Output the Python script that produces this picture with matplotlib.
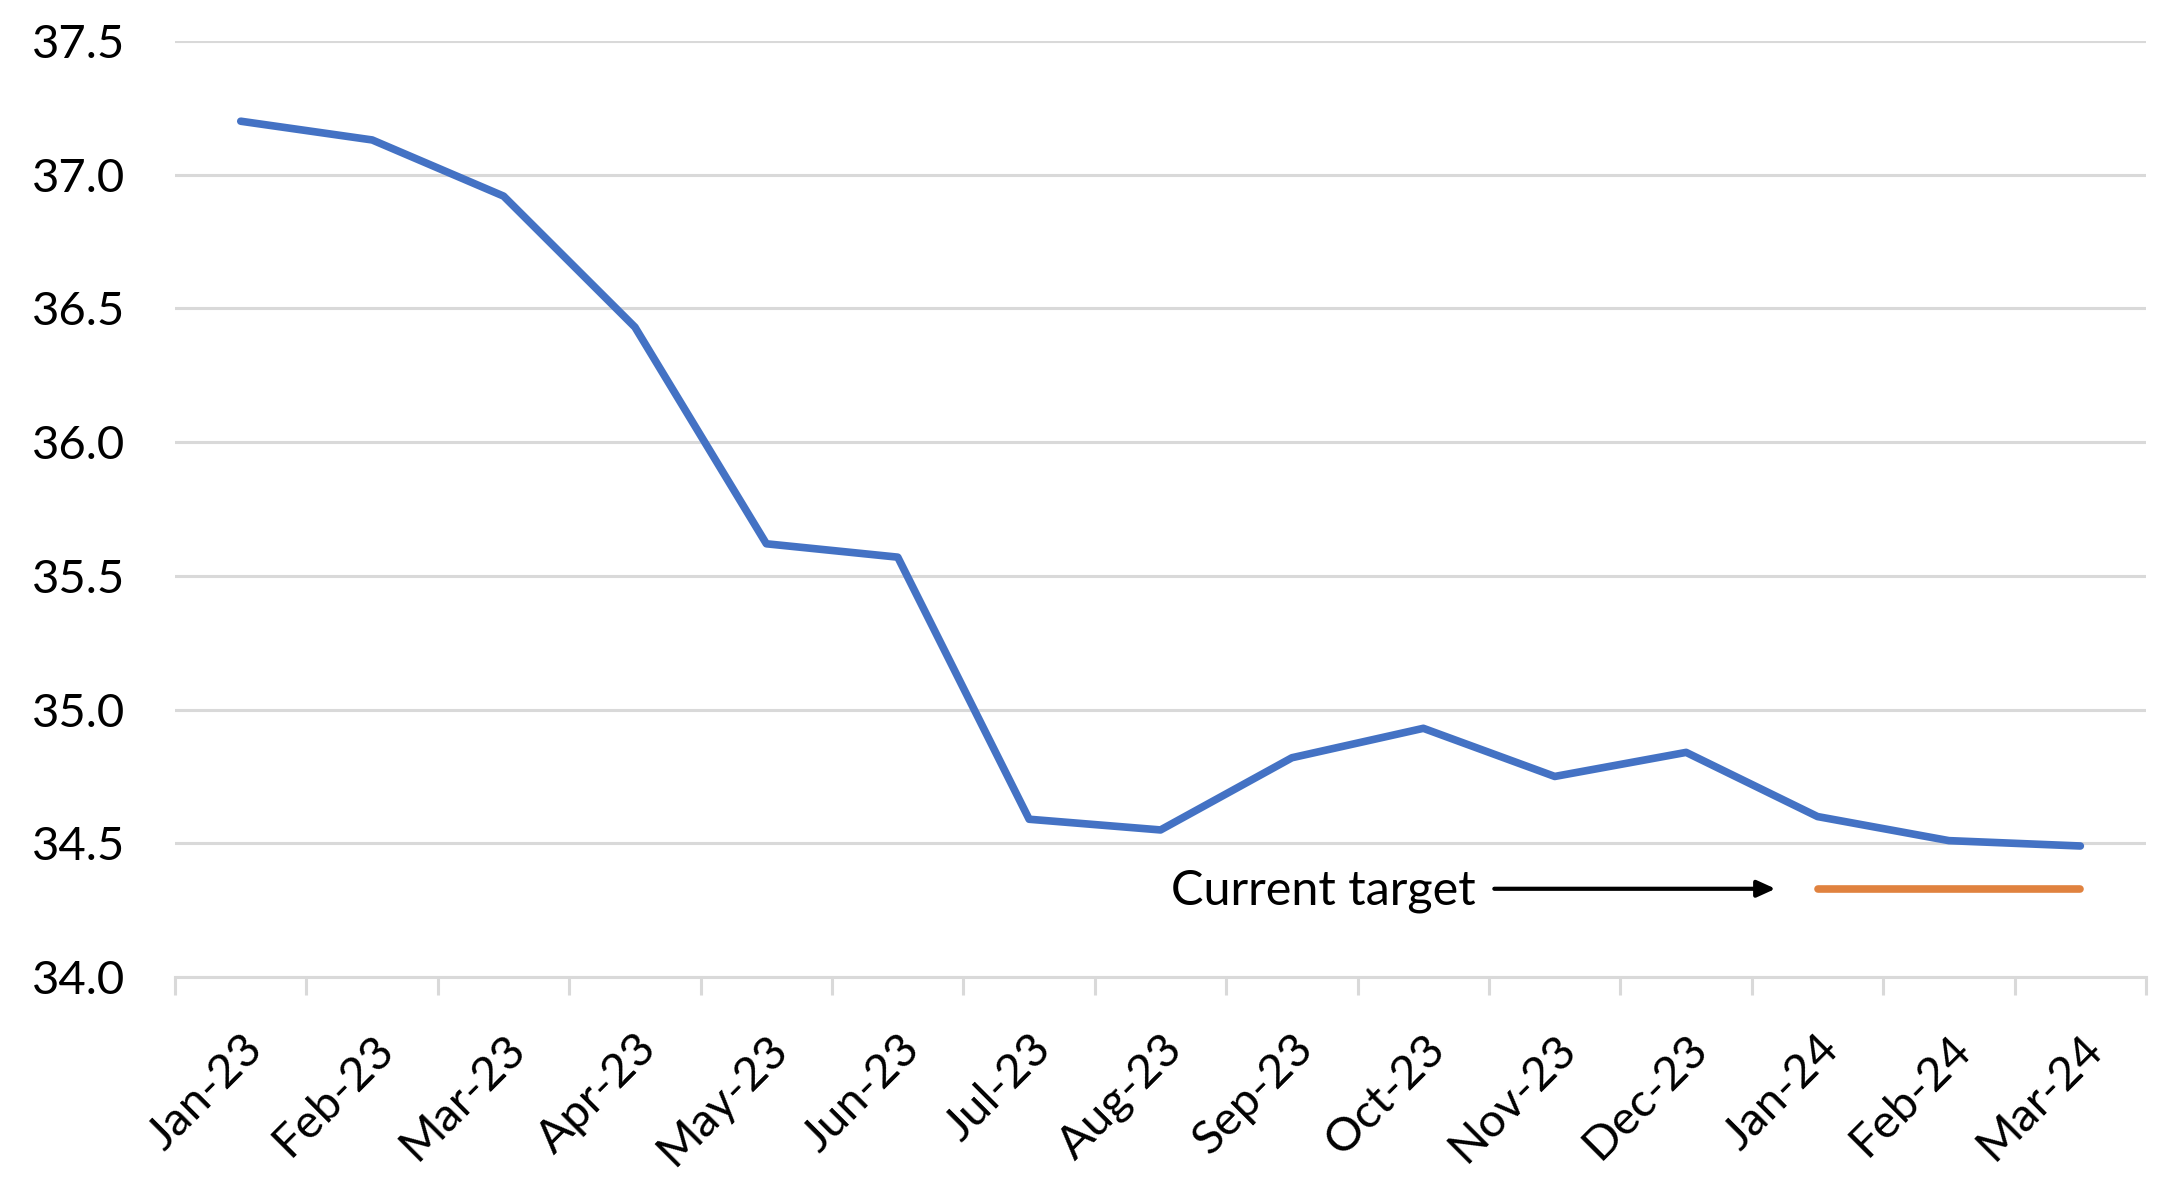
import numpy as np
import matplotlib.pyplot as plt

months = ['Jan-23', 'Feb-23', 'Mar-23', 'Apr-23', 'May-23', 'Jun-23', 'Jul-23',
          'Aug-23', 'Sep-23', 'Oct-23', 'Nov-23', 'Dec-23', 'Jan-24', 'Feb-24', 'Mar-24']
values = [37.20, 37.13, 36.92, 36.43, 35.62, 35.57, 34.59, 34.55,
          34.82, 34.93, 34.75, 34.84, 34.60, 34.51, 34.49]
target_months = ['Jan-24', 'Feb-24', 'Mar-24']
target_values = [34.33, 34.33, 34.33]

plt.rcParams['font.family'] = ['Lato', 'DejaVu Sans']

fig = plt.figure(figsize=(21.64, 11.78), dpi=100)
ax = fig.add_axes([0.0809, 0.1706, 0.9108, 0.7946])

x = np.arange(len(months))
ax.plot(x, values, color='#4472C4', lw=5.5, solid_joinstyle='round',
        solid_capstyle='round', zorder=3)
tx = [months.index(m) for m in target_months]
ax.plot(tx, target_values, color='#E0823F', lw=5.5, solid_capstyle='round', zorder=3)

# arrow + label pointing at the target line
ax.annotate('', xy=(11.68, 34.33), xytext=(9.54, 34.33),
            arrowprops=dict(arrowstyle='-|>,head_length=1.1,head_width=0.5',
                            color='black', lw=3, shrinkA=0, shrinkB=0))
ax.text(9.40, 34.32, 'Current target', ha='right', va='center', fontsize=35)

ax.set_xlim(-0.5, len(months) - 0.5)
ax.set_ylim(34.0, 37.5)
ax.set_yticks(np.arange(34.0, 37.51, 0.5))
ax.set_yticklabels([f'{v:.1f}' for v in np.arange(34.0, 37.51, 0.5)], fontsize=34)
ax.yaxis.grid(True, color='#d9d9d9', lw=2.2)
ax.set_axisbelow(True)
ax.tick_params(axis='y', length=0, pad=36)

# tick marks between categories, labels at the centres
ax.set_xticks(np.arange(-0.5, len(months), 1.0))
ax.set_xticklabels([])
ax.tick_params(axis='x', which='major', length=13, width=2.2, color='#d9d9d9')
ax.set_xticks(x, minor=True)
ax.set_xticklabels(months, minor=True, rotation=45, ha='right',
                   rotation_mode='anchor', fontsize=34)
ax.tick_params(axis='x', which='minor', length=0, pad=36)

for side in ['top', 'right', 'left']:
    ax.spines[side].set_visible(False)
ax.spines['bottom'].set_color('#d9d9d9')
ax.spines['bottom'].set_linewidth(2.2)

fig.savefig('out.png', dpi=100)
